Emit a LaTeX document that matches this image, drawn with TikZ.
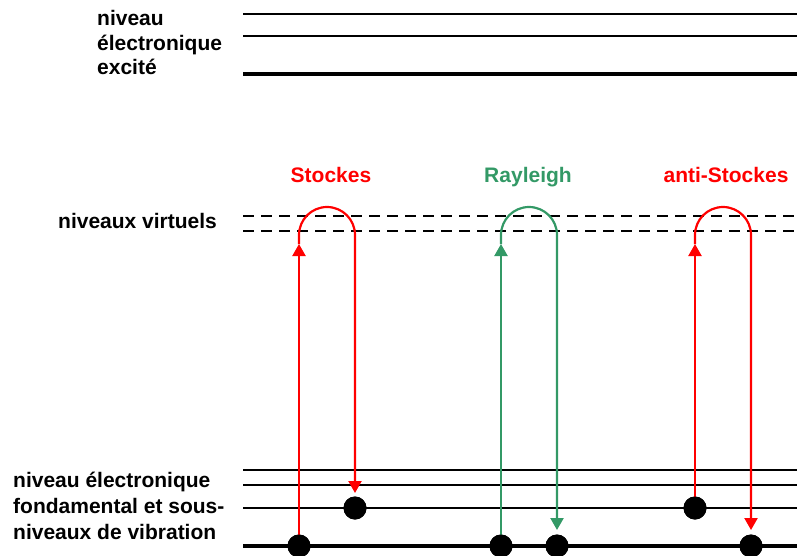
\documentclass[tikz,border=0pt]{standalone}
\usepackage{fontspec}
\setmainfont{Liberation Sans}
\usetikzlibrary{arrows.meta}
\definecolor{rgreen}{RGB}{51,153,102}
\definecolor{rred}{RGB}{255,0,0}
\tikzset{
  level/.style={line width=2.4pt, black},
  thicklevel/.style={line width=3.4pt, black},
  virt/.style={line width=2.6pt, black, dash pattern=on 11pt off 7pt},
  lbl/.style={inner sep=0pt, font=\fontsize{21}{25}\selectfont\bfseries},
  ball/.style={circle, fill=black, minimum size=23pt, inner sep=0pt},
  trans/.style={line width=2.2pt, -{Triangle[width=13pt,length=12pt]}},
}
\begin{document}
\begin{tikzpicture}[x=1pt,y=-1pt]
\useasboundingbox (0,0) rectangle (797,555);
% excited levels
\draw[level] (243,14) -- (797,14);
\draw[level] (243,36) -- (797,36);
\draw[thicklevel] (243,74) -- (797,74);
% virtual levels
\draw[virt] (243,216) -- (797,216);
\draw[virt] (243,231) -- (797,231);
% ground levels
\draw[level] (243,470) -- (797,470);
\draw[level] (243,485) -- (797,485);
\draw[level] (243,508) -- (797,508);
\draw[thicklevel] (243,546) -- (797,546);
% left texts
\node[lbl, anchor=base west] (t1) at (97,25) {niveau};
\node[lbl, anchor=base west] (t2) at (97,50) {électronique};
\node[lbl, anchor=base west] (t3) at (97,74) {excité};
\node[lbl, anchor=base west] (tv) at (58,228) {niveaux virtuels};
\node[lbl, anchor=base west] (b1) at (13,487) {niveau électronique};
\node[lbl, anchor=base west] (b2) at (13,513) {fondamental et sous-};
\node[lbl, anchor=base west] (b3) at (13,539) {niveaux de vibration};
% titles
\node[lbl, anchor=base, text=rred] (ts) at (331,182) {Stockes};
\node[lbl, anchor=base, text=rgreen] (tr) at (528,182) {Rayleigh};
\node[lbl, anchor=base, text=rred] (ta) at (726,182) {anti-Stockes};
% balls
\node[ball] (s1) at (299,546) {};
\node[ball] (s2) at (355,508) {};
\node[ball] (r1) at (501,546) {};
\node[ball] (r2) at (557,546) {};
\node[ball] (a1) at (695,508) {};
\node[ball] (a2) at (751,546) {};
% arrow points
\coordinate (sUp) at (299,244);
\coordinate (sDn) at (355,493);
\coordinate (rUp) at (501,244);
\coordinate (rDn) at (557,530);
\coordinate (aUp) at (695,244);
\coordinate (aDn) at (751,530);
% Stockes
\draw[trans, rred] (s1.center) -- (sUp);
\draw[trans, rred] (sUp) -- (299,235) arc[start angle=180, end angle=0, radius=28pt] -- (sDn);
% Rayleigh
\draw[trans, rgreen] (r1.center) -- (rUp);
\draw[trans, rgreen] (rUp) -- (501,235) arc[start angle=180, end angle=0, radius=28pt] -- (rDn);
% anti-Stockes
\draw[trans, rred] (a1.center) -- (aUp);
\draw[trans, rred] (aUp) -- (695,235) arc[start angle=180, end angle=0, radius=28pt] -- (aDn);
% redraw balls on top
\node[ball] at (s1) {};
\node[ball] at (s2) {};
\node[ball] at (r1) {};
\node[ball] at (r2) {};
\node[ball] at (a1) {};
\node[ball] at (a2) {};
\end{tikzpicture}
\end{document}
